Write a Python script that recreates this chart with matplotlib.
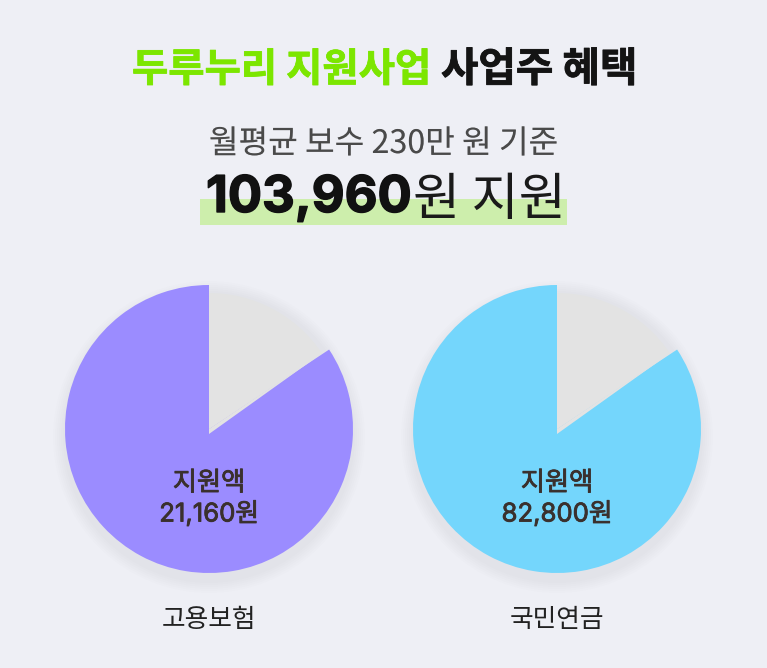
import matplotlib.pyplot as plt
import numpy as np
import matplotlib.patheffects as pe
from matplotlib.patches import Circle, Rectangle

plt.rcParams['font.family'] = ['Noto Sans CJK KR', 'DejaVu Sans']

# values
funds = ['고용보험', '국민연금']
amounts = ['21,160원', '82,800원']
colors = ['#9b8cff', '#74d6fc']
support_share = 0.843
gray_share = 0.156

BG = '#eeeff5'
H = 668
heavier = [pe.withStroke(linewidth=0.6, foreground='#3a302d')]
bolder = [pe.withStroke(linewidth=1.0, foreground='#111111')]

fig = plt.figure(figsize=(7.67, 6.68), dpi=100, facecolor=BG)
ax = fig.add_axes([0, 0, 1, 1])


def reset_axes():
    # pie() changes the limits, so put the pixel frame back
    ax.set_xlim(0, 767)
    ax.set_ylim(0, H)
    ax.set_aspect('equal')
    ax.axis('off')


# title
ax.text(132, H - 70, '두루누리 지원사업', fontsize=28.4, fontweight='bold', color='#7ce600', va='center', ha='left',
        path_effects=[pe.withStroke(linewidth=0.6, foreground='#7ce600')])
ax.text(441, H - 70, '사업주 혜택', fontsize=29.3, fontweight='bold', color='#141414', va='center', ha='left',
        path_effects=[pe.withStroke(linewidth=0.6, foreground='#141414')])
ax.text(383.5, H - 144, '월평균 보수 230만 원 기준', fontsize=23.2, color='#4a4a4a', va='center', ha='center',
        path_effects=[pe.withStroke(linewidth=0.4, foreground=BG)])

# highlight and total
ax.add_patch(Rectangle((200, H - 225), 367, 26, color='#cdeeac', lw=0, zorder=1))
ax.text(206, H - 212, '103,960', fontsize=36.5, fontweight='bold', family='Inter', color='#111111', va='baseline', ha='left',
        zorder=3, path_effects=bolder)
ax.text(413, H - 215, '원 지원', fontsize=36.9, color='#1a1a1a', va='baseline', ha='left', zorder=3)

for cx, name, amount, color in zip([209, 557], funds, amounts, colors):
    cy = H - 429
    apex_y = H - 434

    # soft shadow under the disc
    for grow in np.arange(12, 0, -2):
        ax.add_patch(Circle((cx, cy - 8), 144 + grow, color='#3c3c5a', alpha=0.006, lw=0, zorder=2))

    wedges, _ = ax.pie([1 - support_share, support_share], center=(cx, cy), radius=144, startangle=90, counterclock=False,
                       colors=['none', color], frame=True)
    for w in wedges:
        w.set_zorder(3)

    # the gray sector is smaller, and its point reaches a little below the center
    gray, _ = ax.pie([gray_share, 1 - gray_share], center=(cx, cy), radius=136, startangle=90, counterclock=False,
                     colors=['#e3e3e3', 'none'], frame=True)
    for w in gray:
        w.set_zorder(4)
    ang = 2 * np.pi * gray_share
    end = (cx + 136 * np.sin(ang), cy + 136 * np.cos(ang))
    ax.fill([cx, cx, end[0]], [cy, apex_y, end[1]], color='#e3e3e3', lw=0, zorder=4)

    ax.text(cx, H - 483, '지원액', fontsize=18.9, color='#3a302d', va='center', ha='center', zorder=5, path_effects=heavier)
    ax.text(cx, H - 514, amount, fontsize=18.5, family=['Inter', 'Noto Sans CJK KR'], color='#3a302d', va='center', ha='center',
            zorder=5, path_effects=heavier)
    ax.text(cx, H - 620, name, fontsize=18.5, color='#222222', va='center', ha='center')

reset_axes()
fig.savefig('out.png', dpi=100, facecolor=BG)
